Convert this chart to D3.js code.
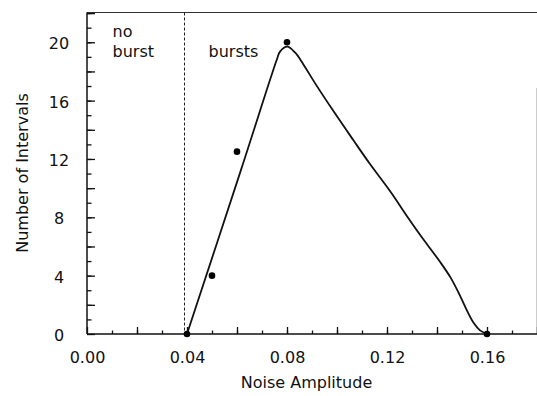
<!DOCTYPE html>
<html>
<head>
<meta charset="utf-8">
<script src="https://cdn.jsdelivr.net/npm/d3@7"></script>
<style>
  html, body { margin: 0; padding: 0; background: #fff; }
  svg { display: block; }
  text { font-family: "DejaVu Sans", sans-serif; font-size: 16px; fill: #111; }
</style>
</head>
<body>
<svg id="chart" width="537" height="396"></svg>
<script>
// Measured counts of intervals versus noise amplitude
const amplitude = [0.04, 0.05, 0.06, 0.08, 0.16];
const intervals = [0, 4, 12.5, 20, 0];

// Smoothed fit through the measurements
const fitAmplitude = [0.040, 0.0616, 0.0759, 0.0772, 0.0801, 0.0832, 0.0865, 0.0912, 0.0985,
                      0.1065, 0.1132, 0.1212, 0.1285, 0.1332, 0.1412, 0.1455, 0.1490, 0.1520,
                      0.1545, 0.1572, 0.1601];
const fitIntervals = [0, 11.25, 18.8, 19.36, 19.7, 19.3, 18.5, 17.2, 15.3,
                      13.3, 11.65, 9.8, 7.95, 6.8, 4.95, 3.85, 2.7, 1.6,
                      0.8, 0.25, 0];

// Axis ticks
const xTickLabels = [0.00, 0.04, 0.08, 0.12, 0.16];
const yTickLabels = [0, 4, 8, 12, 16, 20];

// Regime boundary and region labels
const burstThreshold = 0.039;
const regionLabels = [
  { lines: ["no", "burst"], at: 0.01 },
  { lines: ["bursts"], at: 0.0484 }
];

const svg = d3.select("#chart");
const m = { left: 87, right: 537, top: 12.5, bottom: 334 };

const x = d3.scaleLinear().domain([0, 0.18]).range([m.left, m.right]);
const y = d3.scaleLinear().domain([0, 22]).range([m.bottom, 13.1]);

// Frame: top and right borders
svg.append("line").attr("x1", m.left).attr("x2", m.right).attr("y1", m.top).attr("y2", m.top)
  .attr("stroke", "#333").attr("stroke-width", 1.2);
svg.append("line").attr("x1", 536.5).attr("x2", 536.5).attr("y1", 88).attr("y2", m.bottom)
  .attr("stroke", "#ccc").attr("stroke-width", 1);

// X axis: minor ticks every 0.01, major every 0.02, labels every 0.04
const xMinor = d3.range(1, 18).map(i => i / 100);
const xMajor = d3.range(0, 10).map(i => i * 0.02);
function styleAxis(g) {
  g.attr("font-size", null).attr("font-family", null);
  g.selectAll("path").remove();
  g.selectAll("line").attr("stroke", "#111").attr("stroke-width", 1.3);
  g.selectAll("text").attr("fill", "#111");
}
svg.append("g").attr("transform", `translate(0,${m.bottom})`)
  .call(d3.axisBottom(x).tickValues(xMinor).tickSize(-3.5).tickFormat(""))
  .call(styleAxis);
svg.append("g").attr("transform", `translate(0,${m.bottom})`)
  .call(d3.axisBottom(x).tickValues(xMajor).tickSize(-7).tickFormat(""))
  .call(styleAxis);
svg.append("g").attr("transform", `translate(0,${m.bottom})`)
  .call(d3.axisBottom(x).tickValues(xTickLabels).tickSize(0).tickPadding(17.5)
    .tickFormat(d3.format(".2f")))
  .call(styleAxis);

// Y axis: minor ticks every 1, major every 2, labels every 4
const yMinor = d3.range(1, 23);
const yMajor = d3.range(0, 23, 2);
svg.append("g").attr("transform", `translate(${m.left},0)`)
  .call(d3.axisLeft(y).tickValues(yMinor).tickSize(-4.5).tickFormat(""))
  .call(styleAxis);
svg.append("g").attr("transform", `translate(${m.left},0)`)
  .call(d3.axisLeft(y).tickValues(yMajor).tickSize(-8).tickFormat(""))
  .call(styleAxis);
const yLab = svg.append("g").attr("transform", `translate(${m.left},0)`)
  .call(d3.axisLeft(y).tickValues(yTickLabels).tickSize(0).tickFormat(d3.format("d")))
  .call(styleAxis);
yLab.selectAll("text").attr("text-anchor", "middle").attr("x", -28).attr("dy", "0.4em");

// Axis lines
svg.append("line").attr("x1", m.left).attr("x2", m.right).attr("y1", m.bottom).attr("y2", m.bottom)
  .attr("stroke", "#111").attr("stroke-width", 1.5);
svg.append("line").attr("x1", m.left).attr("x2", m.left).attr("y1", m.top).attr("y2", m.bottom)
  .attr("stroke", "#111").attr("stroke-width", 1.5);

// Burst threshold
svg.append("line")
  .attr("x1", x(burstThreshold)).attr("x2", x(burstThreshold))
  .attr("y1", m.top).attr("y2", m.bottom)
  .attr("stroke", "#222").attr("stroke-width", 1).attr("stroke-dasharray", "3,2");

// Region labels
regionLabels.forEach(r => {
  r.lines.forEach((s, i) => {
    svg.append("text").attr("x", x(r.at) + 0.5)
      .attr("y", 57 - (r.lines.length - 1 - i) * 20.3)
      .text(s);
  });
});

// Fitted curve
const fit = fitAmplitude.map((a, i) => [a, fitIntervals[i]]);
svg.append("path").datum(fit)
  .attr("fill", "none").attr("stroke", "#111").attr("stroke-width", 1.8)
  .attr("d", d3.line().x(d => x(d[0])).y(d => y(d[1])).curve(d3.curveCatmullRom.alpha(0.5)));

// Measured points
svg.selectAll("circle.pt").data(amplitude.map((a, i) => [a, intervals[i]]))
  .join("circle").attr("class", "pt")
  .attr("cx", d => x(d[0])).attr("cy", d => y(d[1])).attr("r", 3.3)
  .attr("fill", "#000");

// Axis titles
svg.append("text").attr("x", 306.5).attr("y", 388).attr("text-anchor", "middle")
  .text("Noise Amplitude");
svg.append("text").attr("transform", `translate(28,173) rotate(-90)`)
  .attr("text-anchor", "middle").text("Number of Intervals");
</script>
</body>
</html>
